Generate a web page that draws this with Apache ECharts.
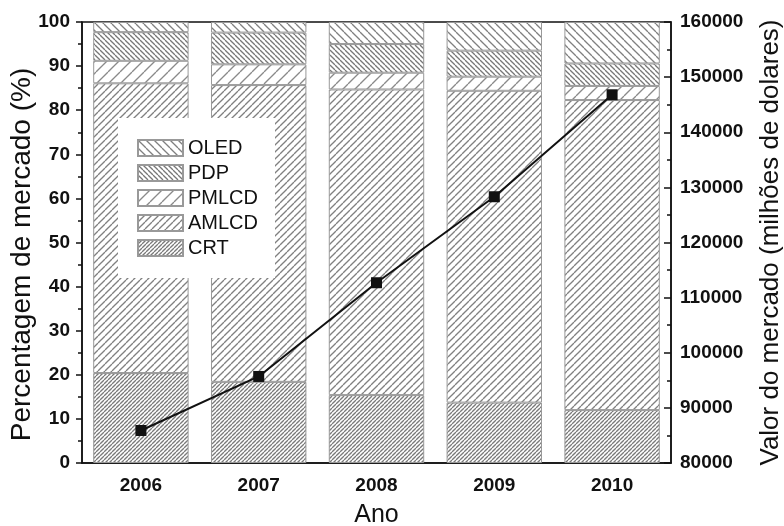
<!DOCTYPE html>
<html>
<head>
<meta charset="utf-8">
<script src="https://cdn.jsdelivr.net/npm/echarts@6/dist/echarts.min.js"></script>
<style>html,body{margin:0;padding:0;background:#fff}#c{width:784px;height:526px}</style>
</head>
<body>
<div id="c"></div>
<script>
var years = ['2006', '2007', '2008', '2009', '2010'];
var crt   = [20.4, 18.4, 15.4, 13.7, 12.0];
var amlcd = [65.7, 67.3, 69.3, 70.7, 70.3];
var pmlcd = [5.1, 4.7, 3.8, 3.2, 3.2];
var pdp   = [6.5, 7.2, 6.5, 5.9, 5.1];
var oled  = [2.3, 2.4, 5.0, 6.5, 9.4];
var marketValue = [85900, 95700, 112700, 128300, 146800];

function hatch(s, dir, lw, color) {
  var c = document.createElement('canvas');
  c.width = s; c.height = s;
  var g = c.getContext('2d');
  g.fillStyle = '#fff'; g.fillRect(0, 0, s, s);
  g.strokeStyle = color; g.lineWidth = lw;
  for (var k = -1; k <= 1; k++) {
    g.beginPath();
    if (dir === '/') { g.moveTo(k * s, s); g.lineTo(k * s + s, 0); }
    else { g.moveTo(k * s, 0); g.lineTo(k * s + s, s); }
    g.stroke();
  }
  return {image: c, repeat: 'repeat'};
}
var fills = {
  CRT: hatch(4, '/', 1.3, '#7a7a7a'),
  AMLCD: hatch(7, '/', 1.3, '#808080'),
  PMLCD: hatch(12, '/', 1.3, '#8a8a8a'),
  PDP: hatch(5, '\\', 1.3, '#777777'),
  OLED: hatch(8, '\\', 1.3, '#808080')
};
function barSeries(name, data) {
  return {
    name: name, type: 'bar', stack: 'share', data: data, barWidth: '81%',
    itemStyle: {color: fills[name], borderColor: '#999', borderWidth: 1},
    emphasis: {disabled: true}
  };
}
var FF = 'Liberation Sans, Arial, sans-serif';
var tickFont = {color: '#111', fontWeight: 'bold', fontSize: 19, fontFamily: FF};
var chart = echarts.init(document.getElementById('c'));
chart.setOption({
  animation: false,
  backgroundColor: '#fff',
  grid: {left: 82, right: 113, top: 22, bottom: 63, show: true, borderColor: '#111', borderWidth: 1.5,
         backgroundColor: 'transparent', outerBoundsMode: 'none', containLabel: false},
  legend: {
    data: ['OLED', 'PDP', 'PMLCD', 'AMLCD', 'CRT'],
    orient: 'vertical', left: 118, top: 118,
    padding: [20, 17, 20, 19], backgroundColor: '#fff',
    itemWidth: 45, itemHeight: 16, itemGap: 5, icon: 'rect',
    textStyle: {color: '#111', fontSize: 20, lineHeight: 20, fontFamily: FF}
  },
  xAxis: {
    type: 'category', data: years,
    axisLine: {lineStyle: {color: '#111', width: 1.5}},
    axisTick: {show: false},
    axisLabel: Object.assign({margin: 13}, tickFont),
    name: 'Ano', nameLocation: 'middle', nameGap: 40, nameMoveOverlap: false,
    nameTextStyle: {color: '#111', fontSize: 25, fontFamily: FF}
  },
  yAxis: [{
    type: 'value', min: 0, max: 100, interval: 10,
    axisLine: {show: true, lineStyle: {color: '#111', width: 1.5}},
    axisTick: {show: true, length: 6, lineStyle: {color: '#111', width: 1.5}},
    minorTick: {show: true, splitNumber: 2, length: 4, lineStyle: {color: '#111', width: 1.5}},
    splitLine: {show: false},
    axisLabel: Object.assign({margin: 12}, tickFont),
    name: 'Percentagem de mercado (%)', nameLocation: 'middle', nameRotate: 90, nameGap: 46, nameMoveOverlap: false,
    nameTextStyle: {color: '#111', fontSize: 28, fontFamily: FF, padding: [0, 24, 0, 0]}
  }, {
    type: 'value', min: 80000, max: 160000, interval: 10000, position: 'right',
    axisLine: {show: true, lineStyle: {color: '#111', width: 1.5}},
    axisTick: {show: true, inside: true, length: 7, lineStyle: {color: '#111', width: 1.5}},
    minorTick: {show: true, splitNumber: 2, length: 4, lineStyle: {color: '#111', width: 1.5}},
    splitLine: {show: false},
    axisLabel: Object.assign({margin: 9, formatter: function (v) { return String(v); }}, tickFont),
    name: 'Valor do mercado (milhões de dolares)', nameLocation: 'middle', nameRotate: 90, nameGap: 87, nameMoveOverlap: false,
    nameTextStyle: {color: '#111', fontSize: 26, fontFamily: FF}
  }],
  series: [
    barSeries('CRT', crt),
    barSeries('AMLCD', amlcd),
    barSeries('PMLCD', pmlcd),
    barSeries('PDP', pdp),
    barSeries('OLED', oled),
    {
      name: 'Valor', type: 'line', yAxisIndex: 1, data: marketValue,
      symbol: 'rect', symbolSize: 11, z: 10,
      lineStyle: {color: '#111', width: 2}, itemStyle: {color: '#111'},
      emphasis: {disabled: true}
    }
  ]
});
</script>
</body>
</html>
